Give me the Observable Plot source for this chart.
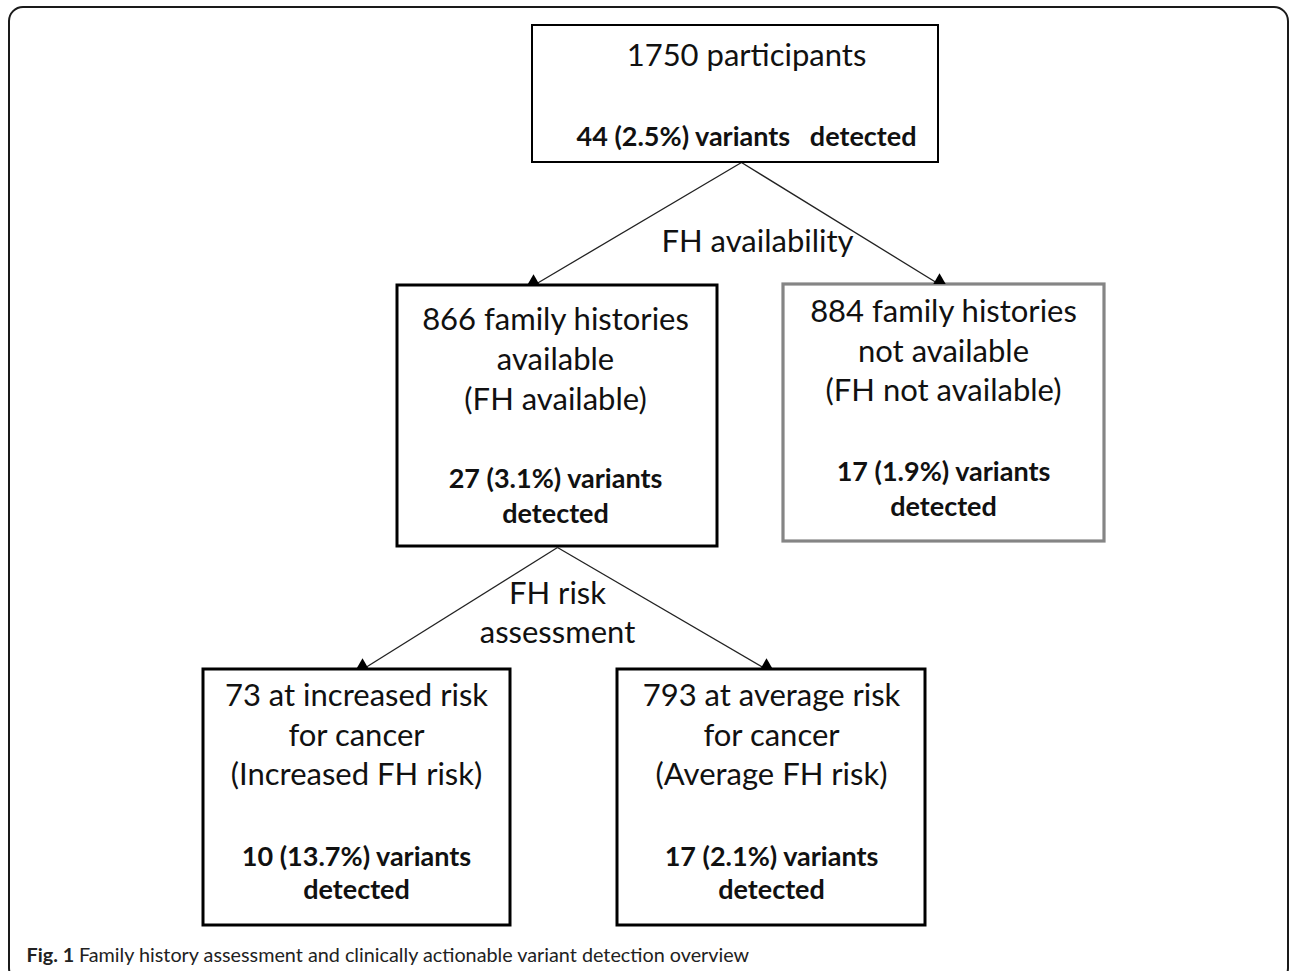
<!DOCTYPE html>
<html><head><meta charset="utf-8">
<script src="https://cdn.jsdelivr.net/npm/d3@7"></script>
<script src="https://cdn.jsdelivr.net/npm/@observablehq/plot@0.6"></script>
<style>html,body{margin:0;padding:0;background:#fff;} svg{display:block}</style>
</head><body><div id="chart"></div>
<script>
// ---------- data ----------
const nodeIds = ["all", "fhAvailable", "fhNotAvailable", "increasedRisk", "averageRisk"];
const nodeTitleLines = [
  ["1750 participants"],
  ["866 family histories", "available", "(FH available)"],
  ["884 family histories", "not available", "(FH not available)"],
  ["73 at increased risk", "for cancer", "(Increased FH risk)"],
  ["793 at average risk", "for cancer", "(Average FH risk)"]
];
const variantCounts = [44, 27, 17, 10, 17];
const variantPercents = ["2.5", "3.1", "1.9", "13.7", "2.1"];
const edgeSources = ["all", "all", "fhAvailable", "fhAvailable"];
const edgeTargets = ["fhAvailable", "fhNotAvailable", "increasedRisk", "averageRisk"];
const stepLabels = [["FH availability"], ["FH risk", "assessment"]];
const captionLabel = "Fig. 1";
const captionText = "Family history assessment and clinically actionable variant detection overview";

// ---------- layout (pixels) ----------
const W = 1292, H = 971;
const boxLeft   = [532, 397, 783, 203, 617];
const boxRight  = [938, 717, 1104, 510, 925];
const boxTop    = [25, 285, 284, 669, 669];
const boxBottom = [162, 546, 541, 925, 925];
const boxStroke = ["#000", "#000", "#858585", "#000", "#000"];
const boxStrokeWidth = [2, 3, 3.2, 3, 3];
const textCenters = [746, 555, 943, 356, 771];
const titleBaselines = [[65], [329, 369, 409], [321, 361, 400], [705, 745, 784], [705, 745, 784]];
const variantBaselines = [[145], [487, 522], [480, 515], [865, 898], [865, 898]];
const edgeStart = {all: [741, 162], fhAvailable: [557, 547]};
const edgeEnd = {fhAvailable: [533, 285], fhNotAvailable: [939, 284], increasedRisk: [362, 669], averageRisk: [766, 669]};
const stepLabelX = [757, 557];
const stepLabelBaselines = [[251], [603, 642]];
const FONT = "Lato, 'Open Sans', sans-serif";
const normalSize = 31, boldSize = 27, captionSize = 19.8;

// ---------- derived tables ----------
const boxes = nodeIds.map((id, i) => ({id, x1: boxLeft[i], x2: boxRight[i], y1: boxTop[i], y2: boxBottom[i], stroke: boxStroke[i], sw: boxStrokeWidth[i]}));
const titleRows = nodeIds.flatMap((id, i) => nodeTitleLines[i].map((t, j) => ({text: t, x: textCenters[i], y: titleBaselines[i][j]})));
const variantRows = nodeIds.flatMap((id, i) => {
  const lines = i === 0
    ? [`${variantCounts[i]} (${variantPercents[i]}%) variants\u00a0\u00a0 detected`]
    : [`${variantCounts[i]} (${variantPercents[i]}%) variants`, "detected"];
  return lines.map((t, j) => ({text: t, x: textCenters[i], y: variantBaselines[i][j]}));
});
const edges = edgeSources.map((s, k) => ({x1: edgeStart[s][0], y1: edgeStart[s][1], x2: edgeEnd[edgeTargets[k]][0], y2: edgeEnd[edgeTargets[k]][1]}));
const heads = edges.map(e => ({x: e.x2, y: e.y2 - 4}));
const stepRows = stepLabels.flatMap((lines, i) => lines.map((t, j) => ({text: t, x: stepLabelX[i], y: stepLabelBaselines[i][j]})));
const frame = [{x1: 9, x2: 1288, y1: 7, y2: 982}];

const ctx = document.createElement("canvas").getContext("2d");
ctx.font = `bold ${captionSize}px Lato`;
const labelWidth = ctx.measureText(captionLabel + " ").width;
const captionRows = [{text: captionLabel, x: 26, y: 961, w: "bold"}, {text: captionText, x: 26 + labelWidth, y: 961, w: "normal"}];

const chart = Plot.plot({
  width: W, height: H, margin: 0,
  x: {domain: [0, W], range: [0, W], axis: null},
  y: {domain: [0, H], range: [0, H], axis: null},
  style: {fontFamily: FONT, background: "#fff"},
  marks: [
    Plot.rect(frame, {x1: "x1", x2: "x2", y1: "y1", y2: "y2", fill: "none", stroke: "#1a1a1a", strokeWidth: 2, rx: 14}),
    Plot.link(edges, {x1: "x1", y1: "y1", x2: "x2", y2: "y2", stroke: "#222", strokeWidth: 1.3}),
    Plot.rect(boxes, {x1: "x1", x2: "x2", y1: "y1", y2: "y2", fill: "#fff", stroke: d => d.stroke, strokeWidth: d => d.sw}),
    Plot.dot(heads, {x: "x", y: "y", symbol: "triangle", r: 4.6, fill: "#000", stroke: "none"}),
    Plot.text(titleRows, {x: "x", y: "y", text: "text", fontSize: normalSize, lineAnchor: "bottom", fill: "#111"}),
    Plot.text(variantRows, {x: "x", y: "y", text: "text", fontSize: boldSize, fontWeight: "bold", lineAnchor: "bottom", fill: "#111"}),
    Plot.text(stepRows, {x: "x", y: "y", text: "text", fontSize: normalSize, lineAnchor: "bottom", fill: "#111"}),
    Plot.text(captionRows.filter(d => d.w === "bold"), {x: "x", y: "y", text: "text", fontSize: captionSize, fontWeight: "bold", textAnchor: "start", lineAnchor: "bottom", fill: "#222"}),
    Plot.text(captionRows.filter(d => d.w === "normal"), {x: "x", y: "y", text: "text", fontSize: captionSize, textAnchor: "start", lineAnchor: "bottom", fill: "#222"})
  ]
});
document.getElementById("chart").append(chart);
</script>
</body></html>
